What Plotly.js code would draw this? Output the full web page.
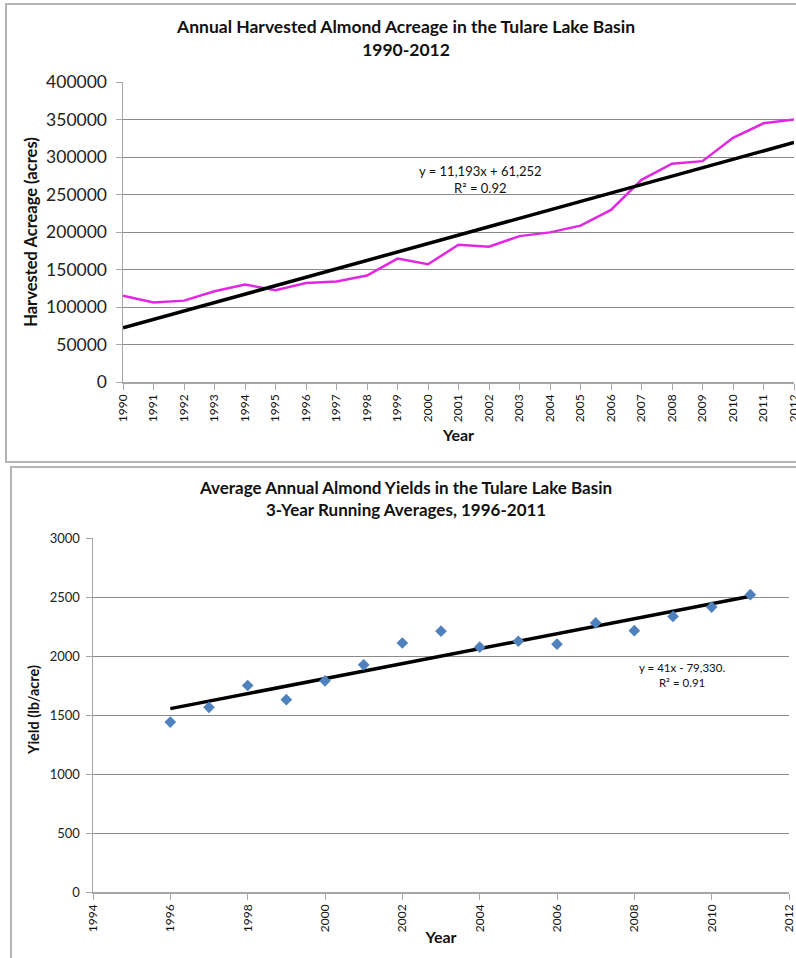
<!DOCTYPE html>
<html>
<head>
<meta charset="utf-8">
<script src="https://cdn.plot.ly/plotly-3.0.1.min.js"></script>
<style>
html,body{margin:0;padding:0;background:#fff;overflow:hidden;width:796px;height:958px;}
.box{position:absolute;border:2px solid #b4b4b4;box-sizing:border-box;}
.plot{position:absolute;}
</style>
</head>
<body>
<div class="box" style="left:5px;top:3px;width:820px;height:460px;"></div>
<div class="box" style="left:10px;top:466px;width:820px;height:520px;"></div>
<div id="c1" class="plot" style="left:0;top:0;width:812px;height:462px;"></div>
<div id="c2" class="plot" style="left:0;top:464px;width:796px;height:494px;"></div>
<script>
// ---- Chart 1 data: harvested acreage ----
const acreYears = [1990,1991,1992,1993,1994,1995,1996,1997,1998,1999,2000,2001,2002,2003,2004,2005,2006,2007,2008,2009,2010,2011,2012];
const acreValues = [115000,106000,108500,121000,130000,122500,132000,134000,142000,164500,157000,183000,180500,194500,199500,208500,229500,269500,291000,294500,325500,345000,350000];
const acreTitle = "Annual Harvested Almond Acreage in the Tulare Lake Basin<br>1990-2012";
const acreTrendLabel = "y = 11,193x + 61,252<br>R² = 0.92";

// ---- Chart 2 data: 3-year running average yields ----
const yieldYears = [1996,1997,1998,1999,2000,2001,2002,2003,2004,2005,2006,2007,2008,2009,2010,2011];
const yieldValues = [1440,1565,1750,1630,1790,1925,2110,2210,2075,2125,2100,2280,2215,2335,2415,2520];
const yieldTitle = "Average Annual Almond Yields in the Tulare Lake Basin<br>3-Year Running Averages, 1996-2011";
const yieldTrendLabel = "y = 41x - 79,330.<br>R² = 0.91";

function linfit(xs, ys){
  const n = xs.length;
  const mx = xs.reduce((a,b)=>a+b,0)/n, my = ys.reduce((a,b)=>a+b,0)/n;
  let sxy=0, sxx=0;
  for(let i=0;i<n;i++){ sxy += (xs[i]-mx)*(ys[i]-my); sxx += (xs[i]-mx)*(xs[i]-mx); }
  const b = sxy/sxx, a = my - b*mx;
  return xs.map(x => a + b*x);
}

const FONT = "Lato, 'Open Sans', sans-serif";
const GRID = "#8a8a8a";
const AXIS = "#a6a6a6";

// ---- Chart 1 ----  plot area on page: x 123..794, y 82..382
const t1 = [
  {x: acreYears, y: acreValues, type:'scatter', mode:'lines',
   line:{color:'#e326e3', width:2.5}, hoverinfo:'skip'},
  {x: acreYears, y: linfit(acreYears, acreValues), type:'scatter', mode:'lines',
   line:{color:'#000000', width:3.5}, hoverinfo:'skip'}
];
const l1 = {
  width:812, height:462,
  margin:{l:123, r:18, t:82, b:80},
  paper_bgcolor:'rgba(0,0,0,0)', plot_bgcolor:'rgba(0,0,0,0)',
  showlegend:false,
  font:{family:FONT, color:'#111'},
  xaxis:{range:[1990,2012], tickmode:'array', tickvals:acreYears, ticktext:acreYears.map(String),
         tickangle:-90, tickfont:{size:12, family:FONT, color:'#111'}, ticklabeloverflow:'allow',
         showgrid:false, zeroline:false, showline:true, linecolor:AXIS, linewidth:1.5,
         ticks:'outside', ticklen:6, tickcolor:AXIS, tickwidth:1,
         title:{text:'<b>Year</b>', font:{size:16, family:FONT, color:'#111'}, standoff:8}},
  yaxis:{range:[0,400000], dtick:50000, tickformat:'d', tickfont:{size:17.5, family:FONT, color:'#222'},
         ticklabelstandoff:5,
         showgrid:true, gridcolor:GRID, gridwidth:1, zeroline:false,
         showline:true, linecolor:AXIS, linewidth:1.5, ticks:'outside', ticklen:6, tickcolor:AXIS,
         title:{text:'<b>Harvested Acreage (acres)</b>', font:{size:16.5, family:FONT, color:'#111'}, standoff:4}},
  annotations:[
    {text:'<b>'+acreTitle+'</b>', xref:'paper', yref:'paper', x:(405-123)/671, y:(382-38.5)/300,
     xanchor:'center', yanchor:'middle', showarrow:false, align:'center',
     font:{size:17.5, family:FONT, color:'#111'}},
    {text:acreTrendLabel, xref:'paper', yref:'paper', x:(480-123)/671, y:(382-179)/300,
     xanchor:'center', yanchor:'middle', showarrow:false, align:'center',
     font:{size:13, family:FONT, color:'#111'}}]
};
Plotly.newPlot('c1', t1, l1, {displayModeBar:false, staticPlot:true});

// ---- Chart 2 ----  plot area on page: x 93..789, y 538..892
const t2 = [
  {x: yieldYears, y: linfit(yieldYears, yieldValues), type:'scatter', mode:'lines',
   line:{color:'#000000', width:3.5}, hoverinfo:'skip'},
  {x: yieldYears, y: yieldValues, type:'scatter', mode:'markers',
   marker:{symbol:'diamond', size:9, color:'#4f81bd', line:{width:0}}, hoverinfo:'skip'}
];
const l2 = {
  width:796, height:494,
  margin:{l:93, r:7, t:74, b:66},
  paper_bgcolor:'rgba(0,0,0,0)', plot_bgcolor:'rgba(0,0,0,0)',
  showlegend:false,
  font:{family:FONT, color:'#111'},
  xaxis:{range:[1994,2012], dtick:2, tick0:1994, tickangle:-90, tickfont:{size:12, family:FONT, color:'#111'},
         ticklabeloverflow:'allow',
         showgrid:false, zeroline:false, showline:true, linecolor:AXIS, linewidth:1.5,
         ticks:'outside', ticklen:6, tickcolor:AXIS,
         title:{text:'<b>Year</b>', font:{size:16, family:FONT, color:'#111'}, standoff:0}},
  yaxis:{range:[0,3000], dtick:500, tickfont:{size:13, family:FONT, color:'#222'},
         ticklabelstandoff:3,
         showgrid:true, gridcolor:GRID, gridwidth:1, zeroline:false,
         showline:true, linecolor:AXIS, linewidth:1.5, ticks:'outside', ticklen:6, tickcolor:AXIS},
  annotations:[
    {text:'<b>'+yieldTitle+'</b>', xref:'paper', yref:'paper', x:(405-93)/696, y:(892-498.5)/354,
     xanchor:'center', yanchor:'middle', showarrow:false, align:'center',
     font:{size:17, family:FONT, color:'#111'}},
    {text:'<b>Yield (lb/acre)</b>', xref:'paper', yref:'paper', x:(33-93)/696, y:(892-710)/354,
     xanchor:'center', yanchor:'middle', showarrow:false, textangle:-90,
     font:{size:14.5, family:FONT, color:'#111'}},
    {text:yieldTrendLabel, xref:'paper', yref:'paper', x:(681.5-93)/696, y:(892-675)/354,
     xanchor:'center', yanchor:'middle', showarrow:false, align:'center',
     font:{size:11.5, family:FONT, color:'#111'}}]
};
Plotly.newPlot('c2', t2, l2, {displayModeBar:false, staticPlot:true});
</script>
</body>
</html>
